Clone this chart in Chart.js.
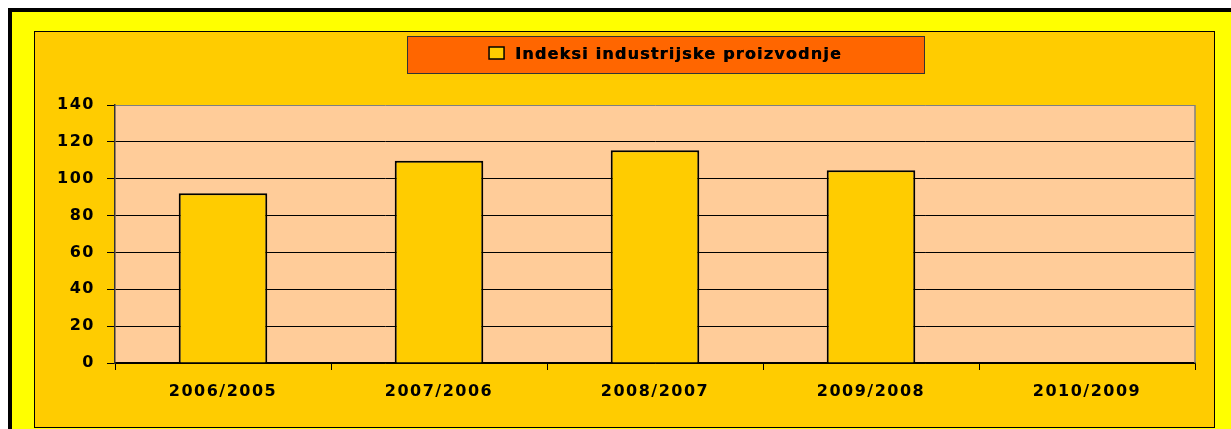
<!DOCTYPE html>
<html>
<head>
<meta charset="utf-8">
<script src="https://cdn.jsdelivr.net/npm/chart.js@4.4.0/dist/chart.umd.min.js"></script>
<style>
    html, body { margin: 0; padding: 0; background: #ffff00; overflow: hidden; }
    .white-top { position: fixed; left: 0; top: 0; width: 100%; height: 8px; background: #fff; }
    .white-left { position: fixed; left: 0; top: 0; width: 8px; height: 100%; background: #fff; }
    .frame {
        position: fixed; left: 8px; top: 8px; width: 3000px; height: 3000px;
        background: #ffff00; border-top: 4px solid #000; border-left: 4px solid #000;
    }
    .box {
        position: fixed; left: 34px; top: 31px; width: 1179px; height: 395px;
        background: #ffcc00; border: 1px solid #000;
    }
    canvas { display: block; }
</style>
</head>
<body>
<div class="white-top"></div>
<div class="white-left"></div>
<div class="frame"></div>
<div class="box"><canvas id="barChart" width="1179" height="395"></canvas></div>
<script>
// Chart data
var categories = ['2006/2005', '2007/2006', '2008/2007', '2009/2008', '2010/2009'];
var indexValues = [92.1, 109.7, 115.5, 104.6, null];
var seriesName = 'Indeksi industrijske proizvodnje';
var yTicks = [0, 20, 40, 60, 80, 100, 120, 140];

var FONT = '"DejaVu Sans", sans-serif';

// Letter spaced text like the original
var spacingPlugin = {
    id: 'spacing',
    beforeDraw: function(chart) {
        chart.ctx.letterSpacing = '1.5px';
    }
};

// Orange legend box at the top
var legendBoxPlugin = {
    id: 'legendBox',
    afterDraw: function(chart) {
        var c = chart.ctx;
        var ds = chart.data.datasets[0];
        c.save();
        c.fillStyle = '#ff6600';
        c.fillRect(372, 4, 517, 37);
        c.strokeStyle = '#333';
        c.lineWidth = 1;
        c.strokeRect(372.5, 4.5, 517, 37);

        c.font = 'bold 16px ' + FONT;
        c.letterSpacing = '1.2px';
        var tw = c.measureText(ds.label).width;
        var total = 15 + 11 + tw;
        var x0 = 630.5 - total / 2;
        c.fillStyle = ds.backgroundColor;
        c.fillRect(x0, 15, 15, 12);
        c.strokeStyle = '#000';
        c.lineWidth = 1.5;
        c.strokeRect(x0, 15, 15, 12);
        c.fillStyle = '#000';
        c.textBaseline = 'middle';
        c.textAlign = 'left';
        c.fillText(ds.label, x0 + 26, 22.5);
        // slight overdraw for heavier strokes
        c.fillText(ds.label, x0 + 26.4, 22.5);
        c.restore();
    }
};

// Plot background and right border
var plotAreaPlugin = {
    id: 'plotArea',
    beforeDraw: function(chart) {
        var a = chart.chartArea;
        chart.ctx.save();
        chart.ctx.fillStyle = '#ffcc99';
        chart.ctx.fillRect(a.left, a.top, a.right - a.left, a.bottom - a.top);
        chart.ctx.restore();
    },
    afterDraw: function(chart) {
        var a = chart.chartArea;
        var c = chart.ctx;
        c.save();
        c.strokeStyle = '#808080';
        c.lineWidth = 1.5;
        c.beginPath();
        c.moveTo(a.right, a.top);
        c.lineTo(a.right, a.bottom);
        c.stroke();
        c.restore();
    }
};

document.addEventListener('DOMContentLoaded', function() {
    var ctx = document.getElementById('barChart');
    new Chart(ctx, {
        type: 'bar',
        data: {
            labels: categories,
            datasets: [{
                label: seriesName,
                data: indexValues,
                backgroundColor: '#ffcc00',
                borderColor: '#000',
                borderWidth: 2,
                categoryPercentage: 1,
                barPercentage: 0.41
            }]
        },
        options: {
            responsive: false,
            animation: false,
            layout: { padding: { top: 73, right: 19, bottom: 14, left: 0 } },
            plugins: {
                legend: { display: false },
                title: { display: false },
                tooltip: { enabled: false }
            },
            scales: {
                x: {
                    offset: true,
                    grid: {
                        offset: true,
                        drawOnChartArea: false,
                        drawTicks: true,
                        tickLength: 7,
                        tickColor: '#000'
                    },
                    border: { color: '#000', width: 1.5 },
                    ticks: {
                        color: '#000',
                        padding: 12,
                        maxRotation: 0,
                        font: { family: FONT, size: 16, weight: 'bold' }
                    },
                    afterFit: function(scale) { scale.height = 50; }
                },
                y: {
                    min: 0,
                    max: 140,
                    afterBuildTicks: function(scale) {
                        scale.ticks = yTicks.map(function(v) { return { value: v }; });
                    },
                    grid: {
                        color: function(c) { return c.tick && c.tick.value === 140 ? '#808080' : '#000'; },
                        lineWidth: 1,
                        tickLength: 8,
                        tickColor: '#000'
                    },
                    border: { color: '#333', width: 1.5 },
                    ticks: {
                        color: '#000',
                        padding: 12,
                        font: { family: FONT, size: 16, weight: 'bold' }
                    },
                    afterFit: function(scale) { scale.width = 80; }
                }
            }
        },
        plugins: [spacingPlugin, plotAreaPlugin, legendBoxPlugin]
    });
});
</script>
</body>
</html>
